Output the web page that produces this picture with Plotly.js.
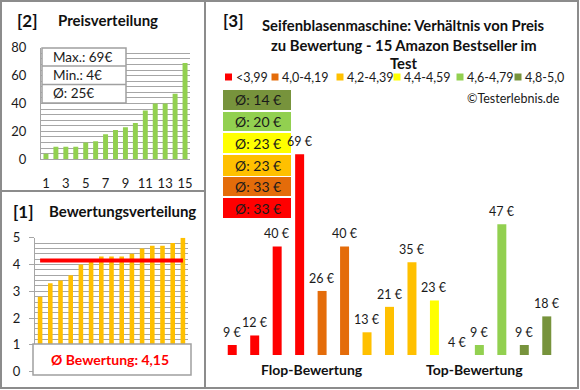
<!DOCTYPE html>
<html>
<head>
<meta charset="utf-8">
<script src="https://cdn.plot.ly/plotly-3.0.1.min.js"></script>
<style>html,body{margin:0;padding:0;background:#fff;}#chart{width:580px;height:390px;}</style>
</head>
<body>
<div id="chart"></div>
<script>
// ---- data ----
const priceRank = [1,2,3,4,5,6,7,8,9,10,11,12,13,14,15];
const priceSorted = [4,9,9,9,12,13,18,21,23,26,35,40,40,47,69];
const ratingSorted = [2.8,3.3,3.4,3.6,4.0,4.1,4.3,4.3,4.3,4.4,4.6,4.7,4.7,4.8,5.0];
const productPrices = [9,12,40,69,26,40,13,21,35,23,4,9,47,9,18];
const productGroup = [0,0,0,0,1,1,2,2,2,3,4,4,4,5,5];
const groupLabels = ['<3,99','4,0-4,19','4,2-4,39','4,4-4,59','4,6-4,79','4,8-5,0'];
const groupColors = ['#FF0000','#E46C0A','#FFC000','#FFFF00','#92D050','#77933C'];
const xTickLabels = [1,3,5,7,9,11,13,15];

// ---- helpers ----
const W = 580, H = 390;
const X = p => p / W;
const Y = p => 1 - p / H;
const FONT = 'Lato, "Open Sans", sans-serif';
const GRID = '#A6A6A6';
const TXT = '#1a1a1a';

const maxP = Math.max(...priceSorted);
const minP = Math.min(...priceSorted);
const avgP = Math.round(priceSorted.reduce((a,b)=>a+b,0)/priceSorted.length);
const avgR = ratingSorted.reduce((a,b)=>a+b,0)/ratingSorted.length;
const avgRText = avgR.toFixed(2).replace('.', ',');

const groupAvg = groupLabels.map((_, g) => {
  const v = productPrices.filter((p, i) => productGroup[i] === g);
  return Math.round(v.reduce((a,b)=>a+b,0)/v.length);
});

const rightYMin = 5.86, rightYMax = 80;
const prodX = productPrices.map((_, i) => i);

const traces = [
  {type:'bar', x: priceRank, y: priceSorted, xaxis:'x', yaxis:'y',
   marker:{color:'#92D050'}, width:0.5, hoverinfo:'none'},
  {type:'bar', x: priceRank, y: ratingSorted, xaxis:'x2', yaxis:'y2',
   marker:{color:'#FFC000'}, width:0.45, hoverinfo:'none'},
  {type:'scatter', mode:'lines', x: priceRank, y: priceRank.map(()=>avgR), xaxis:'x2', yaxis:'y2',
   line:{color:'#FF0000', width:4}, hoverinfo:'none'},
  {type:'bar', x: prodX, y: productPrices, xaxis:'x3', yaxis:'y3',
   marker:{color: productGroup.map(g => groupColors[g])}, width:0.4, hoverinfo:'none'}
];

const shapes = [];
const annotations = [];

// panel borders
const bc = '#8C8C8C';
shapes.push({type:'rect', xref:'paper', yref:'paper', x0:X(1), x1:X(578), y0:Y(388), y1:Y(1), line:{color:bc, width:2}, layer:'above'});
shapes.push({type:'line', xref:'paper', yref:'paper', x0:X(205), x1:X(205), y0:Y(388), y1:Y(1), line:{color:bc, width:2}, layer:'above'});
shapes.push({type:'line', xref:'paper', yref:'paper', x0:X(1), x1:X(205), y0:Y(191), y1:Y(191), line:{color:bc, width:2}, layer:'above'});

// stats box (top-left)
shapes.push({type:'rect', xref:'paper', yref:'paper', x0:X(42), x1:X(126), y0:Y(103), y1:Y(48), fillcolor:'#fff', line:{color:'#A0A0A0', width:1.5}, layer:'above'});
shapes.push({type:'line', xref:'paper', yref:'paper', x0:X(42), x1:X(126), y0:Y(66), y1:Y(66), line:{color:'#A0A0A0', width:1.5}, layer:'above'});
shapes.push({type:'line', xref:'paper', yref:'paper', x0:X(42), x1:X(126), y0:Y(84.5), y1:Y(84.5), line:{color:'#A0A0A0', width:1.5}, layer:'above'});
const statLines = ['Max.: ' + maxP + '€', 'Min.: ' + minP + '€', 'Ø: ' + avgP + '€'];
[57, 75, 93].forEach((py, i) => annotations.push({xref:'paper', yref:'paper', x:X(51), y:Y(py), xanchor:'left', yanchor:'middle', text:statLines[i], showarrow:false, font:{family:FONT, size:13.5, color:TXT}}));

// rating box (bottom-left)
shapes.push({type:'rect', xref:'paper', yref:'paper', x0:X(33), x1:X(191), y0:Y(375), y1:Y(344), fillcolor:'#fff', line:{color:'#A0A0A0', width:1.5}, layer:'above'});
annotations.push({xref:'paper', yref:'paper', x:X(110), y:Y(359.5), xanchor:'center', yanchor:'middle', text:'<b>Ø Bewertung: ' + avgRText + '</b>', showarrow:false, font:{family:FONT, size:14, color:'#FF0000'}});

// panel titles
const tf = (s) => ({family:FONT, size:s, color:'#111'});
annotations.push({xref:'paper', yref:'paper', x:X(27), y:Y(20), text:'<b>[2]</b>', showarrow:false, font:tf(17), xanchor:'center', yanchor:'middle'});
annotations.push({xref:'paper', yref:'paper', x:X(108), y:Y(20), text:'<b>Preisverteilung</b>', showarrow:false, font:tf(15), xanchor:'center', yanchor:'middle'});
annotations.push({xref:'paper', yref:'paper', x:X(23), y:Y(211), text:'<b>[1]</b>', showarrow:false, font:tf(17), xanchor:'center', yanchor:'middle'});
annotations.push({xref:'paper', yref:'paper', x:X(122), y:Y(211), text:'<b>Bewertungsverteilung</b>', showarrow:false, font:tf(15), xanchor:'center', yanchor:'middle'});
annotations.push({xref:'paper', yref:'paper', x:X(233), y:Y(20), text:'<b>[3]</b>', showarrow:false, font:tf(17), xanchor:'center', yanchor:'middle'});
const titleLines = ['Seifenblasenmaschine: Verhältnis von Preis', 'zu Bewertung - 15 Amazon Bestseller im', 'Test'];
[25, 45, 63].forEach((py, i) => annotations.push({xref:'paper', yref:'paper', x:X(404), y:Y(py), text:'<b>' + titleLines[i] + '</b>', showarrow:false, font:tf(14.8), xanchor:'center', yanchor:'middle'}));

// legend (right panel)
const legX = [228.5, 275, 340, 397, 460, 518];
groupLabels.forEach((lab, g) => {
  shapes.push({type:'rect', xref:'paper', yref:'paper', x0:X(legX[g]-3.5), x1:X(legX[g]+3.5), y0:Y(80.5), y1:Y(73.5), fillcolor:groupColors[g], line:{width:0}, layer:'above'});
  annotations.push({xref:'paper', yref:'paper', x:X(legX[g]+5), y:Y(77.5), xanchor:'left', yanchor:'middle', text:lab.replace('<','&lt;'), showarrow:false, font:{family:FONT, size:12.5, color:TXT}});
});
annotations.push({xref:'paper', yref:'paper', x:X(562), y:Y(98), xanchor:'right', yanchor:'middle', text:'©Testerlebnis.de', showarrow:false, font:{family:FONT, size:12.5, color:TXT}});

// average boxes
const boxTops = [198, 177, 155, 133, 112, 90];
const boxBots = [218, 196, 176, 153, 131, 110];
groupAvg.forEach((a, g) => {
  shapes.push({type:'rect', xref:'paper', yref:'paper', x0:X(223), x1:X(291), y0:Y(boxBots[g]), y1:Y(boxTops[g]), fillcolor:groupColors[g], line:{width:0}, layer:'above'});
  annotations.push({xref:'paper', yref:'paper', x:X(233), y:Y((boxTops[g]+boxBots[g])/2), xanchor:'left', yanchor:'middle', text:'Ø: ' + a + ' €', showarrow:false, font:{family:FONT, size:14, color:TXT}});
});

// bar value labels (right panel)
productPrices.forEach((v, i) => annotations.push({xref:'x3', yref:'y3', x:prodX[i], y:Math.max(v, rightYMin), yanchor:'bottom', xanchor:'center', yshift:3, text:v + ' €', showarrow:false, font:{family:FONT, size:12.5, color:TXT}}));

annotations.push({xref:'paper', yref:'paper', x:X(312), y:Y(369), text:'<b>Flop-Bewertung</b>', showarrow:false, font:tf(14), xanchor:'center', yanchor:'middle'});
annotations.push({xref:'paper', yref:'paper', x:X(474), y:Y(369), text:'<b>Top-Bewertung</b>', showarrow:false, font:tf(14), xanchor:'center', yanchor:'middle'});

const tickFont = {family:FONT, size:13, color:TXT};
const layout = {
  width:W, height:H, margin:{l:0, r:0, t:0, b:0},
  paper_bgcolor:'#fff', plot_bgcolor:'rgba(0,0,0,0)',
  showlegend:false, barmode:'overlay', font:{family:FONT},
  xaxis:{domain:[X(41), X(190)], anchor:'y', range:[0.5,15.5], tickmode:'array', tickvals:xTickLabels, ticktext:xTickLabels.map(String),
         showgrid:false, zeroline:false, showline:true, linecolor:GRID, linewidth:1, ticks:'', ticklabelstandoff:12, tickfont:tickFont, fixedrange:true},
  yaxis:{domain:[Y(159.3), Y(47.7)], anchor:'x', range:[0,80], dtick:20, gridcolor:GRID, gridwidth:1,
         minor:{dtick:4, showgrid:true, gridcolor:GRID, gridwidth:1}, showline:true, linecolor:GRID, zeroline:false,
         ticks:'', ticklabelstandoff:11, tickfont:tickFont, fixedrange:true},
  xaxis2:{domain:[X(35), X(188)], anchor:'y2', range:[0.5,15.5], showticklabels:false, showgrid:false, zeroline:false, showline:true, linecolor:GRID, ticks:'', fixedrange:true},
  yaxis2:{domain:[Y(371.7), Y(237.7)], anchor:'x2', range:[0,5], dtick:1, gridcolor:GRID, gridwidth:1,
          minor:{dtick:0.2, showgrid:true, gridcolor:GRID, gridwidth:1}, showline:true, linecolor:GRID, zeroline:false,
          ticks:'outside', ticklen:5, tickcolor:GRID, ticklabelstandoff:6, tickfont:tickFont, fixedrange:true},
  xaxis3:{domain:[X(221), X(558)], anchor:'y3', range:[-0.5,14.5], visible:false, fixedrange:true},
  yaxis3:{domain:[Y(355), Y(119.2)], anchor:'x3', range:[rightYMin, rightYMax], visible:false, fixedrange:true},
  shapes: shapes, annotations: annotations
};

Plotly.newPlot('chart', traces, layout, {staticPlot:true, displayModeBar:false});
</script>
</body>
</html>
